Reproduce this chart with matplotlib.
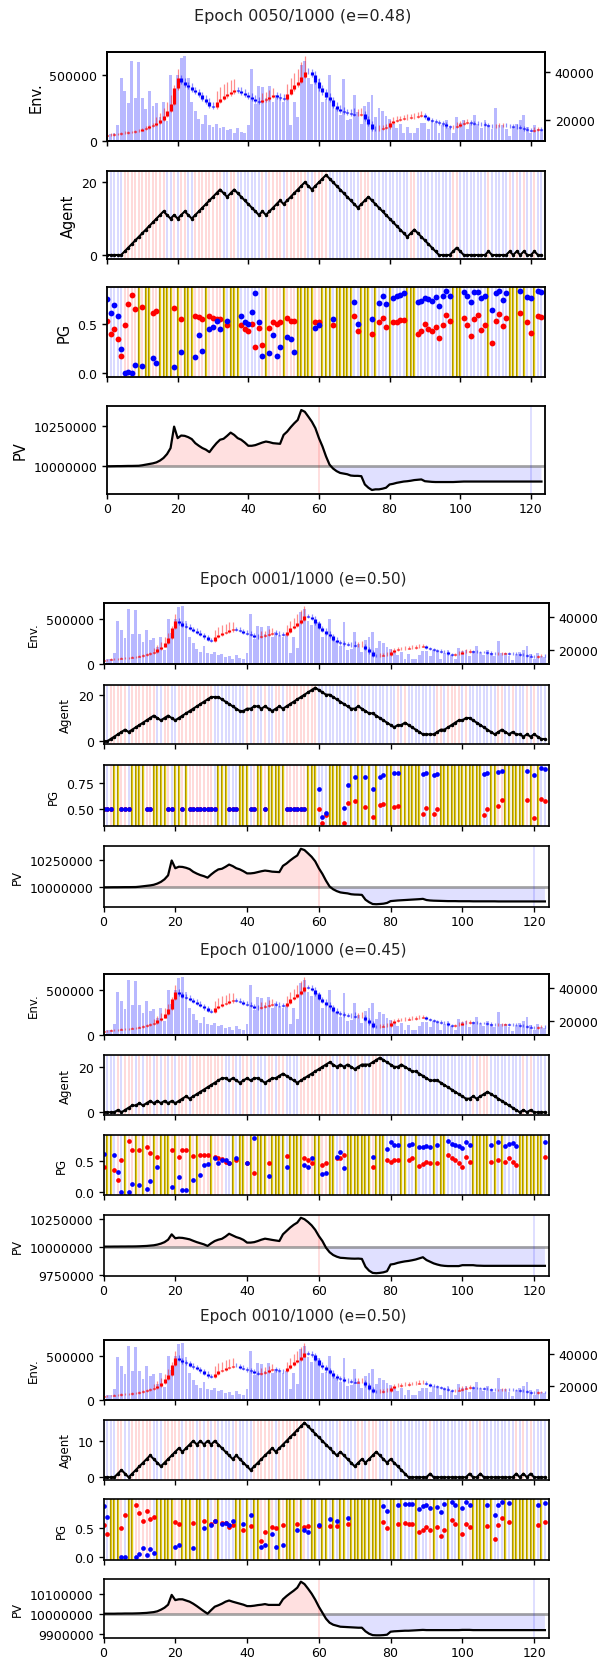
import numpy as np
import matplotlib
matplotlib.use("Agg")
import matplotlib.pyplot as plt

# ---------------- data ----------------
steps = np.arange(124)
xticks = [0, 20, 40, 60, 80, 100, 120]

close = [13600, 13900, 14000, 14100, 14400, 14700, 14900, 15000, 15300, 15600,
         16100, 16700, 17300, 17900, 18700, 20100, 21900, 24000, 26900, 33300,
         37600, 36100, 34700, 34000, 32600, 31600, 30400, 29000, 27600, 25900,
         25400, 27600, 29000, 30000, 30900, 31900, 32600, 32300, 31400, 30400,
         29700, 29000, 28000, 27600, 28300, 28700, 29700, 30400, 29700, 29300,
         29000, 31100, 33000, 34700, 36100, 38300, 40400, 40100, 39000, 36100,
         33300, 31600, 29700, 28300, 26100, 24700, 24000, 23300, 23000, 22600,
         22100, 22300, 22500, 20400, 18300, 16400, 16100, 16300, 16600, 16900,
         18700, 19700, 20100, 20400, 20700, 21000, 21100, 21400, 21900, 22100,
         21100, 20100, 19700, 19300, 18700, 18300, 17300, 16900, 17100, 17600,
         18300, 18700, 19000, 18700, 18500, 18400, 18300, 18000, 17600, 17300,
         17400, 17600, 17700, 17400, 17300, 17200, 16900, 16600, 16100, 15700,
         15400, 15900, 16100, 15900]
open0 = 13300
wick_up = [600, 600, 600, 600, 600, 600, 600, 600, 600, 600,
           600, 700, 800, 900, 2500, 3000, 3000, 3500, 3500, 1500,
           4000, 1500, 1500, 1500, 1500, 1500, 1500, 1500, 1500, 1500,
           1500, 4500, 5000, 5000, 5000, 5000, 4500, 1500, 1500, 1500,
           1500, 1500, 1500, 1500, 3000, 3000, 3000, 3000, 1500, 1500,
           1500, 4000, 4500, 5000, 5500, 6000, 6500, 1500, 1500, 1500,
           1500, 1500, 1500, 1500, 1500, 1500, 1500, 1500, 1500, 1500,
           2500, 2500, 2500, 1200, 1200, 1200, 1200, 1500, 1500, 1500,
           1500, 1500, 1500, 1500, 1500, 1500, 1500, 1500, 1500, 1500,
           800, 800, 800, 800, 800, 800, 800, 800, 800, 1500,
           1500, 1500, 1500, 900, 900, 900, 900, 900, 900, 900,
           900, 1000, 1000, 1000, 1000, 1000, 1000, 1000, 1000, 1000,
           1000, 1000, 1000, 1000]
wick_dn = [400, 400, 400, 400, 400, 400, 400, 400, 400, 400,
           400, 400, 400, 400, 500, 500, 500, 500, 500, 500,
           800, 800, 800, 800, 800, 800, 800, 800, 800, 800,
           600, 600, 600, 600, 600, 600, 800, 800, 800, 800,
           800, 800, 800, 800, 600, 600, 600, 600, 800, 800,
           800, 600, 600, 600, 600, 600, 600, 900, 900, 900,
           900, 900, 900, 900, 900, 900, 900, 900, 900, 900,
           600, 600, 600, 800, 800, 800, 800, 500, 500, 500,
           500, 500, 500, 500, 500, 500, 500, 500, 500, 500,
           600, 600, 600, 600, 600, 600, 600, 600, 600, 500,
           500, 500, 500, 600, 600, 600, 600, 600, 600, 600,
           600, 500, 500, 500, 500, 500, 500, 500, 500, 500,
           500, 500, 500, 500]
volume = [40000, 55000, 60000, 125000, 480000, 380000, 290000, 610000, 330000, 600000,
          330000, 240000, 380000, 270000, 290000, 185000, 300000, 150000, 500000, 340000,
          500000, 630000, 645000, 480000, 300000, 230000, 170000, 130000, 200000, 120000,
          110000, 130000, 100000, 110000, 80000, 90000, 60000, 100000, 70000, 60000,
          120000, 550000, 280000, 420000, 410000, 330000, 420000, 300000, 350000, 320000,
          300000, 330000, 120000, 300000, 180000, 580000, 610000, 480000, 430000, 470000,
          470000, 300000, 320000, 500000, 290000, 250000, 200000, 470000, 160000, 170000,
          350000, 220000, 130000, 270000, 300000, 350000, 180000, 250000, 230000, 190000,
          170000, 130000, 100000, 130000, 60000, 110000, 60000, 60000, 100000, 140000,
          140000, 90000, 160000, 140000, 60000, 120000, 160000, 100000, 60000, 180000,
          140000, 160000, 90000, 140000, 200000, 130000, 100000, 160000, 120000, 90000,
          250000, 120000, 120000, 90000, 40000, 110000, 130000, 160000, 200000, 110000,
          60000, 120000, 90000, 80000]

# agent position per epoch
pos_e50 = [0, 0, 0, 0, 0, 1, 2, 3, 4, 5, 6, 7, 8, 9, 10, 11, 12,
           11, 10, 11, 10, 11, 12, 11, 10, 11, 12, 13, 14, 15, 16, 17, 18,
           17, 16, 17, 18, 17, 16, 15, 14, 13, 12, 11, 12, 11, 12, 13, 14, 15,
           14, 15, 16, 17, 18, 19, 20, 19, 18, 19, 20, 21, 22,
           21, 20, 19, 18, 17, 16, 15, 14, 13, 14, 15, 16,
           15, 14, 13, 12, 11, 10, 9, 8, 7, 6, 5, 6, 7, 6, 5, 4, 3, 2, 1, 0,
           0, 0, 0, 1, 2, 1, 0, 0, 0, 0, 0, 0, 0, 1, 0, 0, 0, 0, 0,
           1, 0, 1, 0, 1, 0, 0, 1, 0, 0]
pos_e1 = [0, 0, 1, 2, 3, 4, 5, 4, 5, 6, 7, 8, 9, 10, 11, 10, 9, 10, 11, 10, 9,
          10, 11, 12, 13, 14, 15, 16, 17, 18, 19, 19, 19,
          18, 17, 16, 15, 14, 13,
          13, 14, 14, 15, 15, 14, 15, 14, 13, 14, 15, 14,
          15, 16, 17, 18, 19, 20, 21, 22, 23,
          22, 21, 20, 20, 19, 18, 17, 16, 15, 14, 14,
          15, 14, 13, 12, 12, 11, 10, 9, 8, 7, 6, 7, 7, 8,
          7, 6, 5, 4, 3, 3, 3, 3, 4, 5, 5, 6, 7, 8, 9, 9, 10, 10,
          9, 8, 7, 6, 5, 4, 3, 4, 5, 4, 3, 4, 3, 3, 2, 3, 2, 3, 2, 1, 1]
pos_e100 = [0, 0, 0, 0, 1, 0, 1, 2, 3, 3, 4, 3, 4, 5, 4, 5, 4, 5, 4, 5,
            4, 5, 6, 7, 6, 7, 8, 9, 10, 11, 12, 13, 14, 15, 15, 14, 15, 14, 13, 14,
            15, 14, 15, 15, 14, 13, 14, 15, 15, 16, 17, 16, 15, 14, 13, 14, 15, 16, 17, 18,
            19, 20, 21, 22, 21, 20, 21, 20, 21, 20, 19, 20, 21, 21, 21, 22, 23, 24, 23, 22,
            21, 20, 20, 21, 20, 19, 18, 18, 17, 16, 15, 14, 14, 14, 13, 12, 11, 10, 9, 8,
            7, 6, 6, 7, 6, 7, 8, 9, 8, 7, 6, 5, 4, 3, 2, 1, 0, 1, 0, 1,
            0, 0, 0, 0]
pos_e10 = [0, 0, 0, 0, 1, 2, 1, 0, 1, 2, 3, 4, 5, 6, 5, 4, 3, 4, 5, 6, 7, 8, 7,
           8, 9, 10, 9, 10, 9, 10, 9, 10, 9, 8, 7, 6, 5, 6, 5, 4, 3, 2,
           3, 4, 5, 6, 7, 8, 7, 8, 9, 10, 11, 12, 13, 14, 15,
           14, 13, 12, 11, 10, 9, 8, 7, 6, 7, 6, 5, 4, 3, 4, 5, 4, 5, 6, 7,
           6, 5, 4, 5, 4, 3, 2, 1, 0, 0, 0, 0, 0, 0, 1,
           0, 0, 0, 0, 0, 0, 0, 0, 0, 0, 1, 0, 0, 1,
           0, 0, 0, 0, 0, 0, 0, 0, 0, 1, 0, 1, 0, 1, 0, 0, 0, 0]

# policy outputs on greedy steps (the other steps were exploration)
pg_e50_steps = [0, 1, 2, 3, 4, 5, 6, 7, 8, 10, 13, 14, 19, 21, 25, 26, 27, 29, 30, 31,
                32, 34, 38, 39, 40, 41, 42, 43, 44, 46, 47, 48, 49, 51, 52, 53, 59, 60, 64, 70,
                71, 75, 77, 78, 79, 81, 82, 83, 84, 88, 89, 90, 91, 92, 93, 94, 95, 96, 97, 101,
                102, 103, 104, 105, 106, 107, 109, 110, 111, 112, 113, 117, 119, 120, 122, 123]
pg_e50_blue = [0.76, 0.62, 0.70, 0.58, 0.25, 0.00, 0.01, 0.00, 0.08, 0.07, 0.15, 0.10, 0.06, 0.21,
               0.16, 0.39, 0.23, 0.45, 0.47, 0.53, 0.45, 0.53, 0.58, 0.52, 0.50, 0.63, 0.82, 0.52,
               0.17, 0.20, 0.39, 0.17, 0.27, 0.37, 0.35, 0.21, 0.46, 0.49, 0.55, 0.73, 0.50, 0.55,
               0.72, 0.79, 0.71, 0.77, 0.79, 0.80, 0.82, 0.73, 0.74, 0.77, 0.76, 0.74, 0.78, 0.69,
               0.79, 0.84, 0.79, 0.83, 0.79, 0.73, 0.83, 0.83, 0.77, 0.79, 0.65, 0.82, 0.84, 0.75,
               0.82, 0.84, 0.78, 0.77, 0.84, 0.83]
pg_e50_red = [0.53, 0.40, 0.45, 0.35, 0.17, 0.49, 0.71, 0.80, 0.66, 0.68, 0.62, 0.64, 0.67, 0.55,
              0.58, 0.57, 0.55, 0.58, 0.56, 0.55, 0.55, 0.49, 0.49, 0.45, 0.43, 0.50, 0.27, 0.46,
              0.29, 0.46, 0.52, 0.50, 0.52, 0.56, 0.53, 0.53, 0.52, 0.52, 0.49, 0.58, 0.43, 0.40,
              0.52, 0.56, 0.47, 0.52, 0.52, 0.54, 0.54, 0.40, 0.43, 0.50, 0.45, 0.43, 0.47, 0.36,
              0.49, 0.59, 0.53, 0.56, 0.49, 0.38, 0.55, 0.59, 0.44, 0.49, 0.31, 0.53, 0.60, 0.48,
              0.56, 0.62, 0.52, 0.41, 0.58, 0.57]

pg_e1_steps = [0, 1, 2, 5, 6, 7, 12, 13, 18, 19, 22, 24, 25, 26, 27, 28, 29, 30, 31, 35,
               36, 37, 41, 42, 45, 51, 52, 53, 54, 55, 56, 60, 61, 62, 67, 68, 70, 73, 75, 77,
               78, 81, 82, 89, 90, 92, 93, 106, 107, 110, 111, 118, 120, 122, 123]
pg_e1_blue = [0.50, 0.50, 0.50, 0.50, 0.50, 0.50, 0.50, 0.50, 0.50, 0.50, 0.50, 0.50, 0.50,
              0.50, 0.50, 0.50, 0.50, 0.50, 0.50, 0.50, 0.50, 0.50, 0.50, 0.50, 0.50, 0.50,
              0.50, 0.50, 0.50, 0.50, 0.50,
              0.69, 0.42, 0.46, 0.51, 0.73, 0.81, 0.81, 0.69, 0.81, 0.83, 0.85, 0.85, 0.84,
              0.85, 0.83, 0.84, 0.84, 0.85, 0.86, 0.87, 0.87, 0.83, 0.90, 0.89]
pg_e1_red = [0.50, 0.50, 0.50, 0.50, 0.50, 0.50, 0.50, 0.50, 0.50, 0.50, 0.50, 0.50, 0.50,
             0.50, 0.50, 0.50, 0.50, 0.50, 0.50, 0.50, 0.50, 0.50, 0.50, 0.50, 0.50, 0.50,
             0.50, 0.50, 0.50, 0.50, 0.50,
             0.50, 0.36, 0.44, 0.36, 0.56, 0.58, 0.52, 0.42, 0.54, 0.55, 0.52, 0.53, 0.45,
             0.51, 0.45, 0.50, 0.44, 0.50, 0.53, 0.59, 0.59, 0.41, 0.60, 0.58]

pg_e100_steps = [0, 3, 4, 5, 7, 8, 10, 12, 13, 15, 19, 21, 22, 23, 25, 27, 28, 29, 31, 32,
                 33, 34, 35, 37, 40, 42, 46, 51, 56, 57, 58, 61, 62, 65, 66, 67, 75, 79, 80, 81,
                 82, 85, 86, 88, 89, 90, 91, 93, 96, 97, 98, 99, 100, 101, 102, 108, 110, 112,
                 113, 114, 115, 123]
pg_e100_blue = [0.61, 0.59, 0.32, 0.00, 0.00, 0.13, 0.11, 0.06, 0.18, 0.40, 0.08, 0.24, 0.03,
                0.04, 0.20, 0.28, 0.43, 0.45, 0.54, 0.46, 0.51, 0.51, 0.47, 0.55, 0.47, 0.87,
                0.26, 0.40, 0.43, 0.40, 0.54, 0.29, 0.30, 0.56, 0.64, 0.38, 0.57, 0.69, 0.80,
                0.76, 0.76, 0.76, 0.77, 0.72, 0.73, 0.74, 0.73, 0.76, 0.81, 0.77, 0.76, 0.74,
                0.71, 0.80, 0.76, 0.76, 0.80, 0.74, 0.77, 0.78, 0.74, 0.80]
pg_e100_red = [0.41, 0.36, 0.20, 0.52, 0.82, 0.68, 0.68, 0.73, 0.62, 0.57, 0.68, 0.57, 0.68,
               0.68, 0.58, 0.59, 0.59, 0.59, 0.56, 0.54, 0.53, 0.48, 0.47, 0.52, 0.46, 0.30,
               0.47, 0.58, 0.54, 0.51, 0.46, 0.44, 0.46, 0.54, 0.55, 0.59, 0.41, 0.51, 0.49,
               0.52, 0.52, 0.52, 0.55, 0.42, 0.45, 0.49, 0.46, 0.47, 0.59, 0.54, 0.51, 0.47,
               0.41, 0.57, 0.48, 0.48, 0.51, 0.49, 0.55, 0.49, 0.44, 0.57]

pg_e10_steps = [0, 1, 5, 6, 9, 10, 11, 12, 13, 14, 20, 21, 25, 28, 30, 31, 33, 34, 35, 36,
                39, 41, 44, 45, 47, 48, 50, 54, 56, 57, 60, 63, 65, 68, 78, 79, 82, 84, 85, 86,
                88, 89, 90, 91, 93, 94, 95, 97, 98, 100, 101, 102, 107, 109, 110, 111, 113, 121, 123]
pg_e10_blue = [0.86, 0.68, 0.00, 0.01, 0.00, 0.06, 0.15, 0.03, 0.14, 0.08,
               0.18, 0.21, 0.15, 0.49, 0.54, 0.61, 0.57, 0.58, 0.54, 0.62,
               0.57, 0.71, 0.17, 0.21, 0.40, 0.17, 0.21,
               0.47, 0.47, 0.42, 0.54, 0.64, 0.61, 0.66,
               0.87, 0.79, 0.88, 0.91, 0.90, 0.90, 0.82, 0.86, 0.88, 0.83,
               0.85, 0.77, 0.90, 0.94, 0.89, 0.83, 0.94, 0.89,
               0.88, 0.72, 0.89, 0.94, 0.92, 0.89, 0.92]
pg_e10_red = [0.54, 0.39, 0.50, 0.72, 0.88, 0.75, 0.62, 0.78, 0.65, 0.68,
              0.59, 0.57, 0.58, 0.61, 0.57, 0.61, 0.58, 0.58, 0.51, 0.54,
              0.47, 0.53, 0.28, 0.43, 0.51, 0.49, 0.54,
              0.57, 0.52, 0.53, 0.53, 0.53, 0.53, 0.57,
              0.59, 0.50, 0.56, 0.58, 0.57, 0.57, 0.43, 0.46, 0.52, 0.47,
              0.52, 0.36, 0.47, 0.63, 0.56, 0.39, 0.56, 0.52,
              0.53, 0.31, 0.54, 0.66, 0.59, 0.54, 0.59]

pv_e50 = [10000000, 10000000, 10000500, 10001000, 10001000, 10001500, 10002000, 10002000, 10002500, 10003000,
          10006000, 10010000, 10014000, 10018000, 10024000, 10035000, 10051000, 10075000, 10112000, 10244000,
          10173000, 10189000, 10187000, 10179000, 10167000, 10142000, 10126000, 10112000, 10102000, 10087000,
          10116000, 10142000, 10163000, 10169000, 10187000, 10207000, 10193000, 10173000, 10163000, 10146000,
          10126000, 10126000, 10130000, 10138000, 10146000, 10152000, 10148000, 10142000, 10140000, 10138000,
          10193000, 10213000, 10240000, 10264000, 10285000, 10346000, 10335000, 10305000, 10274000, 10234000,
          10173000, 10122000, 10061000, 10010000, 9986000, 9970000, 9959000, 9955000, 9951000, 9943000,
          9941000, 9941000, 9939000, 9888000, 9868000, 9854000, 9858000, 9858000, 9862000, 9868000,
          9888000, 9892000, 9898000, 9902000, 9906000, 9908000, 9911000, 9915000, 9917000, 9919000,
          9908000, 9906000, 9904000, 9903000, 9903000, 9903000, 9903000, 9903000, 9903000, 9904000,
          9905000, 9906000, 9906000, 9906000, 9906000, 9906000, 9906000, 9906000, 9906000, 9906000,
          9906000, 9906000, 9906000, 9906000, 9906000, 9906000, 9906000, 9906000, 9906000, 9906000,
          9906000, 9906000, 9906000, 9906000]
pv_e1 = [10000000, 10000000, 10000500, 10001000, 10001000, 10001500, 10002000, 10002000, 10002500, 10003000,
         10006000, 10010000, 10014000, 10018000, 10024000, 10035000, 10051000, 10075000, 10112000, 10250000,
         10178000, 10192000, 10190000, 10182000, 10170000, 10145000, 10128000, 10114000, 10104000, 10090000,
         10120000, 10146000, 10167000, 10173000, 10191000, 10212000, 10198000, 10178000, 10167000, 10150000,
         10130000, 10130000, 10134000, 10142000, 10150000, 10156000, 10152000, 10146000, 10144000, 10142000,
         10200000, 10222000, 10250000, 10275000, 10297000, 10359000, 10347000, 10316000, 10284000, 10242000,
         10178000, 10125000, 10062000, 10008000, 9982000, 9965000, 9953000, 9948000, 9944000, 9936000,
         9933000, 9932000, 9930000, 9885000, 9862000, 9845000, 9843000, 9845000, 9848000, 9855000,
         9872000, 9875000, 9878000, 9880000, 9882000, 9884000, 9886000, 9888000, 9890000, 9893000,
         9882000, 9878000, 9876000, 9875000, 9874000, 9873000, 9872000, 9872000, 9872000, 9871000,
         9871000, 9871000, 9871000, 9870000, 9870000, 9870000, 9870000, 9870000, 9870000, 9870000,
         9869000, 9869000, 9869000, 9869000, 9869000, 9869000, 9869000, 9869000, 9869000, 9869000,
         9869000, 9869000, 9869000, 9869000]
pv_e100 = [10000000, 10000000, 10000000, 10000500, 10000500, 10001000, 10001000, 10001500, 10001500, 10002000,
           10003000, 10004500, 10006000, 10009000, 10012000, 10018000, 10027000, 10040000, 10062000, 10110000,
           10075000, 10080000, 10078000, 10072000, 10065000, 10052000, 10040000, 10030000, 10020000, 10006000,
           10030000, 10050000, 10062000, 10070000, 10090000, 10115000, 10100000, 10085000, 10075000, 10060000,
           10036000, 10036000, 10040000, 10050000, 10062000, 10071000, 10066000, 10060000, 10055000, 10050000,
           10110000, 10140000, 10170000, 10195000, 10215000, 10258000, 10245000, 10220000, 10190000, 10150000,
           10095000, 10050000, 9990000, 9950000, 9925000, 9910000, 9900000, 9898000, 9895000, 9893000,
           9892000, 9893000, 9890000, 9820000, 9785000, 9765000, 9762000, 9765000, 9770000, 9780000,
           9840000, 9845000, 9855000, 9862000, 9868000, 9872000, 9878000, 9885000, 9895000, 9905000,
           9880000, 9865000, 9850000, 9840000, 9832000, 9828000, 9826000, 9826000, 9826000, 9826000,
           9834000, 9834000, 9834000, 9834000, 9830000, 9829000, 9828000, 9828000, 9828000, 9828000,
           9828000, 9828000, 9828000, 9828000, 9828000, 9828000, 9828000, 9828000, 9828000, 9828000,
           9828000, 9828000, 9828000, 9828000]
pv_e10 = [10000000, 10000000, 10000000, 10000000, 10000500, 10000500, 10001000, 10001000, 10001000, 10001500,
          10002000, 10003000, 10004000, 10006000, 10008000, 10012000, 10020000, 10030000, 10045000, 10094000,
          10068000, 10072000, 10072000, 10066000, 10060000, 10050000, 10038000, 10025000, 10012000, 10000000,
          10018000, 10035000, 10042000, 10050000, 10060000, 10066000, 10060000, 10055000, 10050000, 10045000,
          10038000, 10038000, 10040000, 10043000, 10045000, 10048000, 10044000, 10044000, 10044000, 10044000,
          10072000, 10088000, 10102000, 10115000, 10130000, 10160000, 10148000, 10125000, 10100000, 10070000,
          10035000, 10005000, 9975000, 9955000, 9945000, 9940000, 9935000, 9934000, 9933000, 9932000,
          9931000, 9930000, 9930000, 9912000, 9900000, 9893000, 9892000, 9892000, 9893000, 9895000,
          9910000, 9912000, 9913000, 9914000, 9915000, 9915000, 9916000, 9917000, 9918000, 9919000,
          9918000, 9918000, 9918000, 9918000, 9918000, 9918000, 9918000, 9918000, 9918000, 9918000,
          9919000, 9919000, 9919000, 9918000, 9918000, 9918000, 9918000, 9918000, 9918000, 9918000,
          9918000, 9918000, 9918000, 9918000, 9918000, 9918000, 9918000, 9918000, 9918000, 9918000,
          9918000, 9918000, 9918000, 9918000]
pv_start = 10000000

epochs = [
    dict(title="Epoch 0050/1000 (e=0.48)", pos=pos_e50, pg=(pg_e50_steps, pg_e50_blue, pg_e50_red),
         pv=pv_e50, agent_ticks=[0, 20], pg_ticks=[0.0, 0.5], pg_labels=["0.0", "0.5"],
         pv_ticks=[10000000, 10250000]),
    dict(title="Epoch 0001/1000 (e=0.50)", pos=pos_e1, pg=(pg_e1_steps, pg_e1_blue, pg_e1_red),
         pv=pv_e1, agent_ticks=[0, 20], pg_ticks=[0.5, 0.75], pg_labels=["0.50", "0.75"],
         pv_ticks=[10000000, 10250000]),
    dict(title="Epoch 0100/1000 (e=0.45)", pos=pos_e100, pg=(pg_e100_steps, pg_e100_blue, pg_e100_red),
         pv=pv_e100, agent_ticks=[0, 20], pg_ticks=[0.0, 0.5], pg_labels=["0.0", "0.5"],
         pv_ticks=[9750000, 10000000, 10250000]),
    dict(title="Epoch 0010/1000 (e=0.50)", pos=pos_e10, pg=(pg_e10_steps, pg_e10_blue, pg_e10_red),
         pv=pv_e10, agent_ticks=[0, 10], pg_ticks=[0.0, 0.5], pg_labels=["0.0", "0.5"],
         pv_ticks=[9900000, 10000000, 10100000]),
]

# ---------------- layout (pixels) ----------------
W, H = 597, 1665
fig = plt.figure(figsize=(W / 100, H / 100), dpi=100)

layouts = [
    dict(title_y=17, left=107, right=545,
         rows=[(53, 142), (172, 260), (288, 378), (407, 495)], fs=9, lfs=10.5, tfs=11.5, lw=1.3, ms=4.2),
    dict(title_y=580, left=103.5, right=548.5,
         rows=[(604, 665), (686, 745), (766, 827), (847, 908)], fs=9, lfs=8.5, tfs=11, lw=1.2, ms=3.4),
    dict(title_y=951, left=103.5, right=548.5,
         rows=[(975, 1036), (1056, 1116), (1136, 1196), (1216, 1277)], fs=9, lfs=8.5, tfs=11, lw=1.2, ms=3.4),
    dict(title_y=1317, left=103.5, right=548.5,
         rows=[(1341, 1401), (1421, 1481), (1500, 1561), (1580, 1639)], fs=9, lfs=8.5, tfs=11, lw=1.2, ms=3.4),
]


def add_ax(left, right, top, bottom):
    return fig.add_axes([left / W, 1 - bottom / H, (right - left) / W, (bottom - top) / H])


close_a = np.array(close, dtype=float)
open_a = np.r_[open0, close_a[:-1]]
up = close_a >= open_a
candle_col = np.where(up, "red", "blue")
high_a = np.maximum(open_a, close_a) + np.array(wick_up)
low_a = np.minimum(open_a, close_a) - np.array(wick_dn)

for ep, lay in zip(epochs, layouts):
    fs, lfs, lw = lay["fs"], lay["lfs"], lay["lw"]
    L, R = lay["left"], lay["right"]
    fig.text(303 / W, 1 - lay["title_y"] / H, ep["title"], ha="center", va="center",
             fontsize=lay["tfs"], color="#222222")
    axes = [add_ax(L, R, t, b) for (t, b) in lay["rows"]]
    pos = np.array(ep["pos"])
    dpos = np.diff(np.r_[pos[0], pos])
    stripe_col = np.where(dpos > 0, "red", "blue")

    # Env
    ax = axes[0]
    ax.bar(steps, volume, width=0.8, color="blue", alpha=0.28, linewidth=0)
    ax.set_yticks([0, 500000])
    ax.set_yticklabels(["0", "500000"])
    ax.set_ylabel("Env.", fontsize=lfs)
    ax2 = ax.twinx()
    ax2.vlines(steps, low_a, high_a, colors=candle_col, lw=0.9, alpha=0.45)
    ax2.vlines(steps, open_a, close_a, colors=candle_col, lw=2.3)
    ax2.set_yticks([20000, 40000])
    ax2.set_yticklabels(["20000", "40000"])
    ax2.tick_params(labelsize=fs, width=lw * 0.8)
    for s in ax2.spines.values():
        s.set_linewidth(lw)

    # Agent
    ax = axes[1]
    ax.vlines(steps, 0, 1, transform=ax.get_xaxis_transform(), colors=stripe_col, alpha=0.16, lw=1.3)
    ax.plot(steps, pos, "k.-", lw=1.5, ms=3)
    ax.set_yticks(ep["agent_ticks"])
    ax.set_ylabel("Agent", fontsize=lfs)

    # PG
    ax = axes[2]
    pst, pb, pr = ep["pg"]
    explore = [s for s in steps if s not in set(pst)]
    ax.vlines(steps, 0, 1, transform=ax.get_xaxis_transform(), colors=stripe_col, alpha=0.16, lw=1.3)
    ax.vlines(explore, 0, 1, transform=ax.get_xaxis_transform(), colors="#a89200", lw=1.6)
    ax.vlines(explore, 0, 1, transform=ax.get_xaxis_transform(), colors="#e6cc10", lw=0.8)
    ax.plot(pst, pr, "o", color="red", ms=lay["ms"], mew=0)
    ax.plot(pst, pb, "o", color="blue", ms=lay["ms"], mew=0)
    ax.set_yticks(ep["pg_ticks"])
    ax.set_yticklabels(ep["pg_labels"])
    ax.set_ylabel("PG", fontsize=lfs)

    # PV
    ax = axes[3]
    pv = np.array(ep["pv"], dtype=float)
    ax.axhline(pv_start, color="gray", lw=2, alpha=0.7)
    ax.fill_between(steps, pv, pv_start, where=pv >= pv_start, color="red", alpha=0.12,
                    interpolate=True, linewidth=0)
    ax.fill_between(steps, pv, pv_start, where=pv <= pv_start, color="blue", alpha=0.12,
                    interpolate=True, linewidth=0)
    ax.axvline(60, color="red", alpha=0.15, lw=1.2)
    ax.axvline(120, color="blue", alpha=0.15, lw=1.2)
    ax.plot(steps, pv, "k-", lw=1.6)
    ax.set_yticks(ep["pv_ticks"])
    ax.set_yticklabels([str(v) for v in ep["pv_ticks"]])
    ax.set_ylabel("PV", fontsize=lfs)

    for i, ax in enumerate(axes):
        ax.set_xlim(0, 124)
        ax.set_xticks(xticks)
        if i < 3:
            ax.set_xticklabels([])
        else:
            ax.set_xticklabels([str(t) for t in xticks])
        ax.tick_params(labelsize=fs, width=lw * 0.8)
        ax.tick_params(axis="x", pad=2.5)
        for s in ax.spines.values():
            s.set_linewidth(lw)

fig.savefig("out.png", dpi=100)
